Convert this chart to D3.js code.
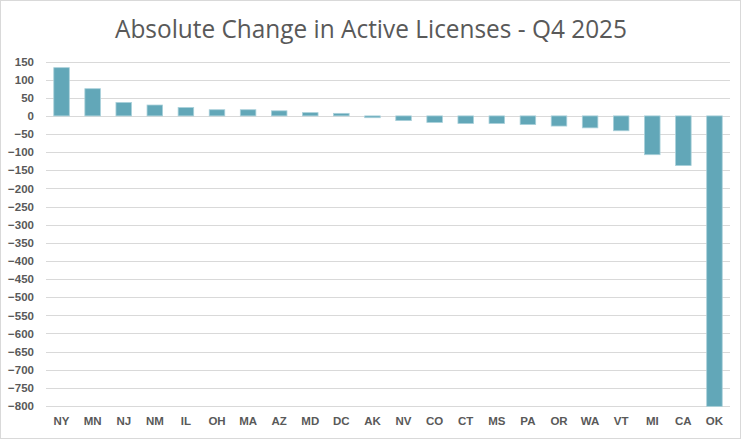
<!DOCTYPE html>
<html>
<head>
<meta charset="utf-8">
<script src="https://cdn.jsdelivr.net/npm/d3@7"></script>
<style>
	body { margin: 0; background: #fff; }
	svg { font-family: "Open Sans", "Noto Sans", sans-serif; }
	.tick_lbl { fill: #595959; font-weight: bold; font-size: 11.5px; }
</style>
</head>
<body>
<svg id="chart" width="742" height="440"></svg>
<script>
var states = ["NY", "MN", "NJ", "NM", "IL", "OH", "MA", "AZ", "MD", "DC", "AK",
	"NV", "CO", "CT", "MS", "PA", "OR", "WA", "VT", "MI", "CA", "OK"];
var change = [133, 75, 37, 30, 23, 17, 17, 14, 9, 7, -5,
	-13, -18, -21, -21, -24, -28, -33, -41, -107, -137, -801];
var y_ticks = [150, 100, 50, 0, -50, -100, -150, -200, -250, -300, -350, -400,
	-450, -500, -550, -600, -650, -700, -750, -800];
var title = "Absolute Change in Active Licenses - Q4 2025";

var svg = d3.select("#chart");

// chart frame
svg.append("rect")
	.attr("x", 0.5).attr("y", 0.5)
	.attr("width", 740).attr("height", 438)
	.attr("fill", "#fff")
	.attr("stroke", "#d9d9d9");

svg.append("text")
	.attr("x", 371)
	.attr("y", 38)
	.attr("text-anchor", "middle")
	.attr("fill", "#595959")
	.attr("font-size", "25.5px")
	.attr("textLength", 512)
	.attr("lengthAdjust", "spacingAndGlyphs")
	.text(title);

var x = d3.scaleBand()
	.domain(states)
	.range([46, 730])
	.paddingInner(0.5)
	.paddingOuter(0.25);

var y = d3.scaleLinear()
	.domain([-800, 150])
	.range([406, 61.5]);

// gridlines
svg.append("g")
	.selectAll("line")
	.data(y_ticks)
	.enter().append("line")
	.attr("x1", 46)
	.attr("x2", 730)
	.attr("y1", function(d){ return Math.round(y(d)) + 0.5; })
	.attr("y2", function(d){ return Math.round(y(d)) + 0.5; })
	.attr("stroke", "#d9d9d9")
	.attr("stroke-width", 1);

// y labels
var ya = svg.append("g")
	.attr("transform", "translate(34,0)")
	.call(d3.axisLeft(y).tickValues(y_ticks).tickSize(0).tickPadding(0));
ya.select(".domain").remove();
ya.selectAll("text").attr("class", "tick_lbl").attr("font-family", null).attr("font-size", null);

// bars
svg.append("g")
	.selectAll("rect")
	.data(states)
	.enter().append("rect")
	.attr("x", function(d){ return x(d); })
	.attr("width", x.bandwidth())
	.attr("y", function(d, i){ return y(Math.max(0, change[i])); })
	.attr("height", function(d, i){ return Math.abs(y(change[i]) - y(0)); })
	.attr("fill", "#62a7b8")
	.attr("stroke", "#a9d0da")
	.attr("stroke-width", 0.8);

// x labels
var xa = svg.append("g")
	.attr("transform", "translate(0,417)")
	.call(d3.axisBottom(x).tickSize(0).tickPadding(0));
xa.select(".domain").remove();
xa.selectAll("text").attr("class", "tick_lbl").attr("font-family", null).attr("font-size", null);
</script>
</body>
</html>
